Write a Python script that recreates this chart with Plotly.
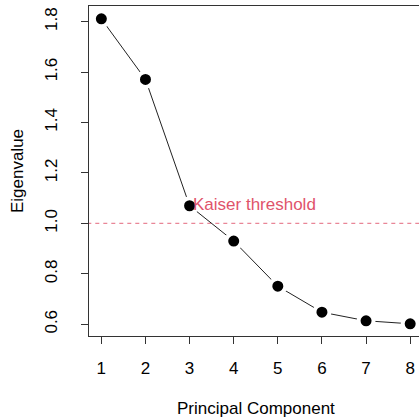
import plotly.graph_objects as go

components = [1, 2, 3, 4, 5, 6, 7, 8]
eigenvalues = [1.811, 1.571, 1.070, 0.930, 0.751, 0.648, 0.614, 0.602]
kaiser_threshold = 1.0
x_ticks = [1, 2, 3, 4, 5, 6, 7, 8]
y_ticks = [0.6, 0.8, 1.0, 1.2, 1.4, 1.6, 1.8]
y_tick_labels = ["0.6", "0.8", "1.0", "1.2", "1.4", "1.6", "1.8"]

FONT = "Liberation Sans, Arial, Helvetica, sans-serif"
RED = "#DF536B"
FS = 17

fig = go.Figure()

fig.add_trace(go.Scatter(
    x=[0.5, 9], y=[kaiser_threshold, kaiser_threshold], mode="lines",
    line=dict(color="rgba(223,83,107,0.7)", width=1.4, dash="4px,4px"),
    hoverinfo="skip", showlegend=False,
))

fig.add_trace(go.Scatter(
    x=components, y=eigenvalues, mode="lines",
    line=dict(color="#222222", width=1),
    showlegend=False,
))
fig.add_trace(go.Scatter(
    x=components, y=eigenvalues, mode="markers",
    marker=dict(color="black", size=15, line=dict(color="white", width=4)),
    showlegend=False, cliponaxis=False,
))

fig.add_annotation(
    x=components[2], y=eigenvalues[2], text="Kaiser threshold",
    showarrow=False, xanchor="left", yanchor="middle", xshift=1, yshift=1,
    font=dict(family=FONT, size=FS, color=RED),
)

fig.add_annotation(
    xref="paper", yref="paper", x=-0.218, y=0.5, text="Eigenvalue",
    textangle=-90, showarrow=False, xanchor="center", yanchor="middle",
    font=dict(family=FONT, size=FS, color="black"),
)
fig.add_annotation(
    xref="paper", yref="paper", x=0.506, y=-0.221, text="Principal Component",
    showarrow=False, xanchor="center", yanchor="middle",
    font=dict(family=FONT, size=FS, color="black"),
)

fig.update_layout(
    width=419, height=418,
    margin=dict(l=89, r=0, t=6, b=82),
    paper_bgcolor="white", plot_bgcolor="white",
    font=dict(family=FONT, size=FS, color="black"),
    xaxis=dict(
        range=[0.72, 8.2], tickmode="array", tickvals=x_ticks,
        ticks="outside", ticklen=7, tickwidth=1, tickcolor="#333333",
        showline=True, linecolor="#333333", linewidth=1, mirror=True,
        showgrid=False, zeroline=False, automargin=False,
        ticklabelstandoff=10,
    ),
    yaxis=dict(
        range=[0.5536, 1.862], tickmode="array", tickvals=y_ticks,
        ticktext=y_tick_labels, tickangle=-90,
        ticks="outside", ticklen=7, tickwidth=1, tickcolor="#333333",
        showline=True, linecolor="#333333", linewidth=1, mirror=False,
        showgrid=False, zeroline=False, automargin=False,
        ticklabelstandoff=17,
    ),
)

fig.write_html("out.html", config={"displayModeBar": False},
               post_script="document.body.style.margin='0';")
